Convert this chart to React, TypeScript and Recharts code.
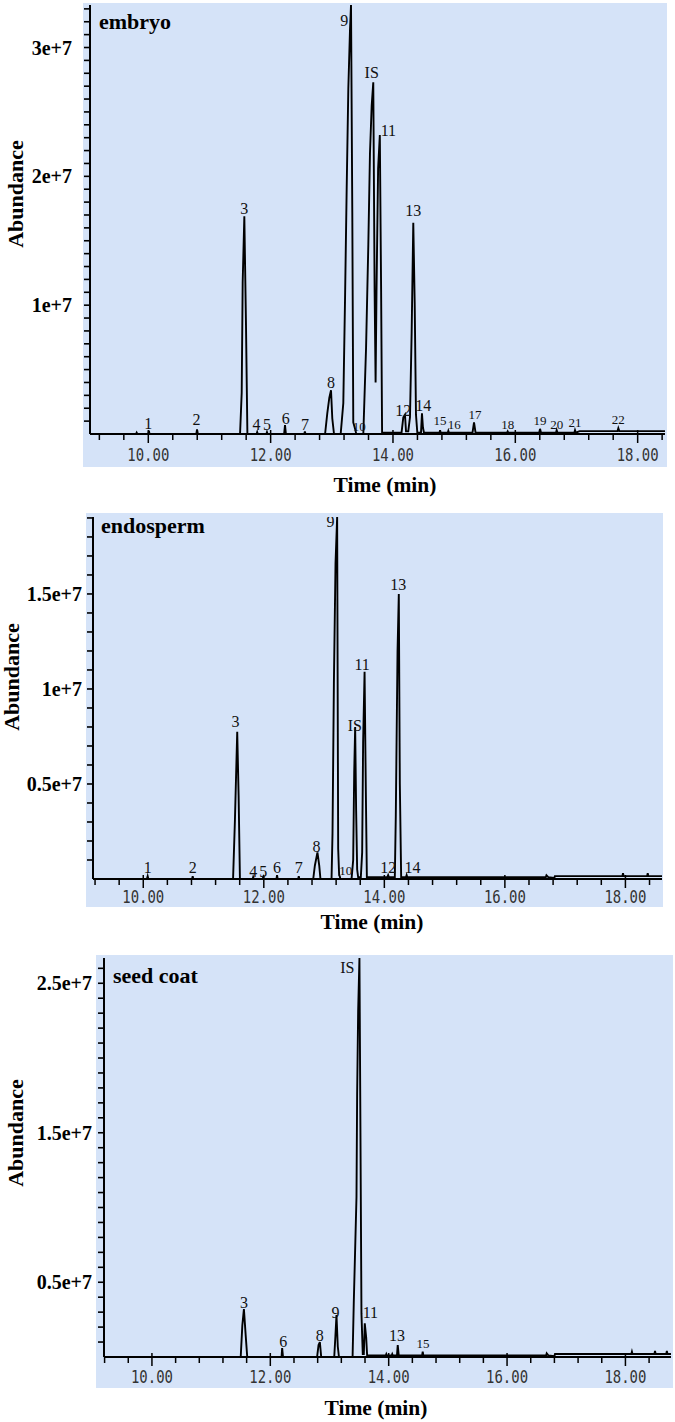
import { ComposedChart, Line, Scatter, XAxis, YAxis } from 'recharts';

// Retention time (min) and abundance (millions of counts)
const embryoTrace: [number, number][] = [
  [9.05, 0], [9.8, 0], [9.81, 0.1], [9.82, 0],
  [10.0, 0], [10.01, 0.25], [10.02, 0],
  [10.785, 0], [10.797, 0.35], [10.81, 0],
  [11.5, 0], [11.527, 3.2], [11.543, 11.8], [11.57, 16.9], [11.597, 8.5], [11.62, 0],
  [11.77, 0], [11.78, 0.15], [11.79, 0],
  [11.93, 0], [11.94, 0.15], [11.95, 0],
  [12.22, 0], [12.235, 0.7], [12.25, 0],
  [12.55, 0], [12.56, 0.2], [12.57, 0],
  [12.89, 0], [12.926, 1.6], [12.959, 2.8], [12.987, 3.4], [13.008, 1.2], [13.036, 0],
  [13.145, 0], [13.188, 2.4], [13.216, 10.4], [13.243, 19.0], [13.27, 26.8], [13.297, 31.3], [13.314, 33.3], [13.335, 17.2], [13.351, 0.9], [13.38, 0.4], [13.4, 0],
  [13.515, 0], [13.56, 6.7], [13.597, 14.7], [13.624, 21.8], [13.652, 25.5], [13.678, 27.3], [13.7, 11.0], [13.716, 4.0],
  [13.731, 11.2], [13.757, 20.6], [13.785, 23.2], [13.806, 11.2], [13.822, 0.1],
  [14.14, 0.1], [14.169, 1.3], [14.196, 1.5], [14.213, 0.2],
  [14.25, 0.2], [14.278, 1.3], [14.305, 7.8], [14.332, 16.4], [14.355, 10.2], [14.376, 1.5], [14.398, 0.1],
  [14.458, 0.1], [14.474, 1.6], [14.49, 0.5], [14.507, 0.1],
  [14.76, 0.1], [14.77, 0.3], [14.78, 0.1],
  [14.895, 0.1], [14.905, 0.25], [14.915, 0.1],
  [15.3, 0.1], [15.325, 0.9], [15.35, 0.1],
  [15.865, 0.1], [15.875, 0.2], [15.885, 0.1],
  [16.39, 0.1], [16.404, 0.4], [16.42, 0.1],
  [16.665, 0.1], [16.676, 0.3], [16.69, 0.1],
  [16.965, 0.1], [16.976, 0.3], [16.99, 0.1],
  [17.05, 0.22], [17.67, 0.22], [17.684, 0.45], [17.7, 0.22], [18.45, 0.22],
];

const endospermTrace: [number, number][] = [
  [9.17, 0], [10.06, 0], [10.073, 0.15], [10.085, 0],
  [10.81, 0], [10.82, 0.15], [10.83, 0],
  [11.49, 0], [11.52, 3.0], [11.559, 7.75], [11.582, 4.4], [11.604, 0],
  [11.815, 0], [11.824, 0.1], [11.835, 0],
  [11.98, 0], [11.99, 0.1], [12.0, 0],
  [12.21, 0], [12.22, 0.2], [12.23, 0],
  [12.57, 0], [12.58, 0.15], [12.59, 0],
  [12.82, 0], [12.847, 0.7], [12.89, 1.4], [12.92, 0.7], [12.94, 0],
  [13.124, 0], [13.14, 2.4], [13.163, 10.3], [13.19, 16.6], [13.217, 19.05], [13.234, 1.6], [13.25, 0.2], [13.26, 0.15], [13.27, 0],
  [13.456, 0], [13.483, 1.0], [13.5, 5.6], [13.516, 8.0], [13.532, 3.6], [13.549, 0.5], [13.565, 0.1],
  [13.61, 0.1], [13.632, 1.4], [13.648, 7.2], [13.672, 10.9], [13.693, 4.6], [13.71, 0.1],
  [14.05, 0.1], [14.063, 0.2], [14.075, 0.1],
  [14.174, 0.1], [14.19, 3.3], [14.219, 12.0], [14.24, 15.0], [14.257, 5.0], [14.279, 0.1],
  [14.36, 0.1], [14.37, 0.2], [14.38, 0.1],
  [16.68, 0.1], [16.69, 0.2], [16.72, 0.1], [16.82, 0.05], [16.83, 0.15],
  [17.95, 0.15], [17.96, 0.3], [17.97, 0.15], [18.36, 0.15], [18.37, 0.3], [18.38, 0.15], [18.61, 0.15],
];

const seedCoatTrace: [number, number][] = [
  [9.19, 0], [11.5, 0], [11.527, 2.1], [11.554, 3.2], [11.583, 1.5], [11.61, 0],
  [12.19, 0], [12.2, 0.6], [12.215, 0],
  [12.79, 0], [12.815, 0.8], [12.837, 1.0], [12.86, 0],
  [13.08, 0], [13.1, 1.4], [13.118, 2.8], [13.14, 0.7], [13.16, 0],
  [13.39, 0], [13.41, 3.6], [13.456, 10.7], [13.467, 17.6], [13.484, 23.1], [13.506, 26.69], [13.523, 15.0], [13.54, 2.9], [13.562, 0.2],
  [13.58, 0.2], [13.596, 2.25], [13.62, 1.3], [13.636, 0.1],
  [13.95, 0.1], [13.96, 0.2], [13.97, 0.1], [14.05, 0.1], [14.06, 0.2], [14.07, 0.1],
  [14.14, 0.1], [14.153, 0.8], [14.17, 0.1],
  [14.565, 0.1], [14.575, 0.35], [14.585, 0.1],
  [16.66, 0.1], [16.67, 0.25], [16.7, 0.1], [16.8, 0.05], [16.81, 0.2],
  [18.1, 0.2], [18.11, 0.35], [18.12, 0.2], [18.49, 0.2], [18.5, 0.4], [18.51, 0.2],
  [18.69, 0.2], [18.7, 0.4], [18.71, 0.2], [18.77, 0.2],
];

// [peak label, retention time, height of the label's baseline (millions)]
const embryoPeaks: [string, number, number][] = [
  ['1', 10.0, 0.35], ['2', 10.79, 0.66], ['3', 11.57, 17.1], ['4', 11.77, 0.3], ['5', 11.94, 0.3],
  ['6', 12.246, 0.8], ['7', 12.56, 0.3], ['8', 12.987, 3.6], ['9', 13.205, 31.7], ['10', 13.45, 0.2],
  ['IS', 13.652, 27.6], ['11', 13.925, 23.1], ['12', 14.169, 1.4], ['13', 14.33, 16.9], ['14', 14.496, 1.8],
  ['15', 14.77, 0.7], ['16', 15.0, 0.4], ['17', 15.34, 1.2], ['18', 15.875, 0.4], ['19', 16.404, 0.66],
  ['20', 16.676, 0.35], ['21', 16.976, 0.56], ['22', 17.684, 0.74],
];

const endospermPeaks: [string, number, number][] = [
  ['1', 10.073, 0.3], ['2', 10.82, 0.33], ['3', 11.532, 8.0], ['4', 11.824, 0.1], ['5', 11.99, 0.12],
  ['6', 12.22, 0.3], ['7', 12.58, 0.3], ['8', 12.876, 1.44], ['9', 13.108, 18.5], ['10', 13.36, 0.2],
  ['IS', 13.51, 7.8], ['11', 13.632, 11.0], ['12', 14.063, 0.3], ['13', 14.229, 15.2], ['14', 14.468, 0.3],
];

const seedCoatPeaks: [string, number, number][] = [
  ['3', 11.554, 3.3], ['6', 12.22, 0.65], ['8', 12.837, 1.1], ['9', 13.1, 2.6],
  ['IS', 13.3, 25.7], ['11', 13.69, 2.6], ['13', 14.142, 1.1], ['15', 14.58, 0.6],
];

const timeTicks = [9.2, 9.6, 10, 10.4, 10.8, 11.2, 11.6, 12, 12.4, 12.8, 13.2, 13.6, 14, 14.4, 14.8, 15.2, 15.6, 16, 16.4, 16.8, 17.2, 17.6, 18, 18.4];
const timeLabels = [10, 12, 14, 16, 18];

const embryoYLabels: [number, string][] = [[10, '1e+7'], [20, '2e+7'], [30, '3e+7']];
const endospermYLabels: [number, string][] = [[5, '0.5e+7'], [10, '1e+7'], [15, '1.5e+7']];
const seedCoatYLabels: [number, string][] = [[5, '0.5e+7'], [15, '1.5e+7'], [25, '2.5e+7']];

const SERIF = "'Liberation Serif', 'Times New Roman', serif";
const MONO = "'DejaVu Sans Mono', 'Liberation Mono', monospace";
const BLUE = '#d5e3f8';

const panels = [
  {
    title: 'embryo', trace: embryoTrace, peaks: embryoPeaks, yLabels: embryoYLabels, yMax: 33.3,
    tMin: 9.047, tMax: 18.447, top: 0, height: 500, left: 90, right: 665, plotTop: 5, plotBottom: 434,
    yLabelGap: 18, xLabelDy: 27, small: ['10', '15', '16', '17', '18', '19', '20', '21', '22'],
    bg: [83, 3, 584, 464], titleAt: [99, 29], abundanceAt: [15, 194], timeAt: [385, 492],
  },
  {
    title: 'endosperm', trace: endospermTrace, peaks: endospermPeaks, yLabels: endospermYLabels, yMax: 19.05,
    tMin: 9.166, tMax: 18.607, top: 500, height: 435, left: 93, right: 662, plotTop: 17, plotBottom: 379,
    yLabelGap: 11, xLabelDy: 24, small: ['10'],
    bg: [86, 513, 577, 394], titleAt: [101, 533], abundanceAt: [11, 677], timeAt: [372, 929],
  },
  {
    title: 'seed coat', trace: seedCoatTrace, peaks: seedCoatPeaks, yLabels: seedCoatYLabels, yMax: 26.69,
    tMin: 9.19, tMax: 18.77, top: 940, height: 482, left: 104, right: 671, plotTop: 18, plotBottom: 417,
    yLabelGap: 12, xLabelDy: 26, small: ['15'],
    bg: [96, 955, 577, 433], titleAt: [113, 983], abundanceAt: [15, 1133], timeAt: [376, 1415],
  },
];

type Panel = (typeof panels)[number];

function Chromatogram({ cfg }: { cfg: Panel }) {
  const lineData = cfg.trace.map(([t, a]) => ({ t, a }));
  const labelData = cfg.peaks.map(([name, t, a]) => ({ t, a, name }));
  const xTicks = timeTicks.filter((t) => t >= cfg.tMin - 0.01 && t <= cfg.tMax);
  const yTicks = Array.from({ length: Math.floor(cfg.yMax) }, (_, i) => i + 1);

  const renderXTick = (p: any) => {
    const v = p.payload.value;
    const major = timeLabels.some((l) => Math.abs(l - v) < 1e-6);
    const y0 = cfg.plotBottom;
    return (
      <g>
        <line x1={p.x} x2={p.x} y1={major ? y0 - 4 : y0} y2={y0 + (major ? 9 : 6)} stroke="#000" strokeWidth={1.5} />
        {major ? (
          <text x={p.x} y={y0 + cfg.xLabelDy} textAnchor="middle" fontFamily={MONO} fontSize={18} textLength={42} lengthAdjust="spacingAndGlyphs" fill="#333">
            {v.toFixed(2)}
          </text>
        ) : null}
      </g>
    );
  };

  // only the labelled values get text; the tick marks come from the axis itself
  const renderYTick = (p: any) => {
    const v = p.payload.value;
    const label = cfg.yLabels.find(([val]) => val === v);
    if (!label) return <g />;
    return (
      <text x={cfg.left - cfg.yLabelGap} y={p.y + 7} textAnchor="end" fontFamily={SERIF} fontWeight="bold" fontSize={20} fill="#000">
        {label[1]}
      </text>
    );
  };

  const renderPeakLabel = (p: any) => (
    <text x={p.cx} y={p.cy} textAnchor="middle" fontFamily={SERIF} fontSize={cfg.small.includes(p.payload.name) ? 13 : 16} fill="#111">
      {p.payload.name}
    </text>
  );

  return (
    <div style={{ position: 'absolute', left: 0, top: cfg.top }}>
      <ComposedChart width={675} height={cfg.height} margin={{ top: cfg.plotTop, right: 675 - cfg.right, bottom: 0, left: 0 }}>
        <XAxis
          type="number"
          dataKey="t"
          domain={[cfg.tMin, cfg.tMax]}
          allowDataOverflow
          ticks={xTicks}
          interval={0}
          tick={renderXTick}
          tickLine={false}
          axisLine={{ stroke: '#000', strokeWidth: 2 }}
          height={cfg.height - cfg.plotBottom}
        />
        <YAxis
          type="number"
          domain={[0, cfg.yMax]}
          allowDataOverflow
          ticks={yTicks}
          interval={0}
          tick={renderYTick}
          tickLine={{ stroke: '#000', strokeWidth: 1.6 }}
          tickSize={6}
          stroke="#000"
          axisLine={{ stroke: '#000', strokeWidth: 2 }}
          width={cfg.left}
        />
        <Line data={lineData} dataKey="a" type="linear" stroke="#000" strokeWidth={1.9} dot={false} isAnimationActive={false} />
        <Scatter data={labelData} dataKey="a" shape={renderPeakLabel} isAnimationActive={false} />
      </ComposedChart>
    </div>
  );
}

export default function App() {
  return (
    <div style={{ position: 'absolute', left: 0, top: 0, width: 675, height: 1422, background: '#fff' }}>
      <svg width={675} height={1422} style={{ position: 'absolute', left: 0, top: 0 }}>
        {panels.map((cfg) => (
          <g key={cfg.title}>
            <rect x={cfg.bg[0]} y={cfg.bg[1]} width={cfg.bg[2]} height={cfg.bg[3]} fill={BLUE} />
            <text x={cfg.titleAt[0]} y={cfg.titleAt[1]} fontFamily={SERIF} fontWeight="bold" fontSize={22} fill="#000">
              {cfg.title}
            </text>
            <text
              transform={`translate(${cfg.abundanceAt[0]},${cfg.abundanceAt[1]}) rotate(-90)`}
              textAnchor="middle"
              dominantBaseline="central"
              fontFamily={SERIF}
              fontWeight="bold"
              fontSize={22}
              fill="#000"
            >
              Abundance
            </text>
            <text x={cfg.timeAt[0]} y={cfg.timeAt[1]} textAnchor="middle" fontFamily={SERIF} fontWeight="bold" fontSize={21.5} fill="#000">
              Time (min)
            </text>
          </g>
        ))}
      </svg>
      {panels.map((cfg) => (
        <Chromatogram key={cfg.title} cfg={cfg} />
      ))}
    </div>
  );
}
